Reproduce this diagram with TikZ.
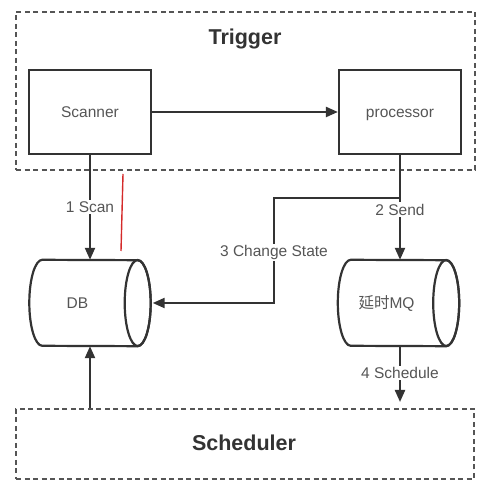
\documentclass[tikz,border=0pt]{standalone}
\usepackage{fontspec}
\setmainfont{Liberation Sans}
\newfontfamily\cjk{Noto Sans CJK SC}
\usetikzlibrary{arrows.meta,calc}
\definecolor{ink}{HTML}{333333}
\definecolor{txt}{HTML}{555555}
\definecolor{dash}{HTML}{555555}
\definecolor{redmark}{HTML}{D42A2A}
\newcommand\drawcyl[1]{%
  \draw[boxline] ([xshift=13pt]#1.north west)
    arc[start angle=90,end angle=270,x radius=13pt,y radius=43pt]
    -- ([xshift=-13pt]#1.south east)
    arc[start angle=-90,end angle=90,x radius=13pt,y radius=43pt] -- cycle;
  \draw[boxline] ([xshift=-13pt]#1.east) ellipse[x radius=13pt,y radius=43pt];}
\begin{document}
\begin{tikzpicture}[x=1pt,y=1pt,
  boxline/.style={draw=ink,line width=2.2pt},
  procbox/.style={boxline,minimum width=122pt,minimum height=84pt,inner sep=0pt,
    text=txt,font=\fontsize{15.5}{18}\selectfont,text height=14.5pt,text depth=3pt},
  cylbox/.style={minimum width=121pt,minimum height=86pt,inner sep=0pt,
    text=txt,font=\fontsize{15.5}{18}\selectfont,text height=14.5pt,text depth=3pt},
  group/.style={draw=dash,line width=1.2pt,dash pattern=on 5pt off 3.5pt},
  title/.style={text=ink,font=\bfseries\fontsize{21.5}{26}\selectfont},
  conn/.style={draw=ink,line width=2.2pt},
  arrow/.style={conn,-{Triangle[length=12pt,width=10pt]}},
  lbl/.style={fill=white,inner sep=1.5pt,text=txt,font=\fontsize{15.5}{18}\selectfont}]
\useasboundingbox (0,0) rectangle (485,494);
% groups
\node[group,minimum width=459pt,minimum height=158pt,inner sep=0pt] (trigger) at (245.5,403) {};
\node[title] (triggerlbl) at (245,455) {Trigger};
\node[group,minimum width=458pt,minimum height=70pt,inner sep=0pt] (sched) at (245,50) {};
\node[title] (schedlbl) at (244,51) {Scheduler};
% boxes
\node[procbox] (scanner) at (90,382) {Scanner};
\node[procbox] (processor) at (400,382) {processor};
\node[cylbox] (db) at (90,191) {\hspace*{-25pt}DB};
\node[cylbox] (mq) at (398.5,191) {\hspace*{-24pt}{\cjk 延时}MQ};
\drawcyl{db}
\drawcyl{mq}
% connectors
\coordinate (j1) at (400,296);
\coordinate (j2) at (274,296);
\coordinate (schedin) at (400,92);
\draw[arrow] (scanner) -- (processor);
\draw[arrow] (scanner) -- node[lbl,pos=0.5]{1 Scan} (db);
\draw[arrow] (processor.south) -- node[lbl,pos=0.52]{2 Send} (processor.south |- mq.north);
\draw[arrow] (j1) -- (j2) -- node[lbl,pos=0.52]{3 Change State} (j2 |- db.east) -- ([xshift=2pt]db.east);
\draw[arrow] (processor.south |- mq.south) -- node[lbl,pos=0.48]{4 Schedule} (schedin);
\draw[arrow] (sched.north -| db) -- (db);
% red hand mark
\draw[redmark,line width=1.4pt] (123,320) -- (121,243);
\end{tikzpicture}
\end{document}
